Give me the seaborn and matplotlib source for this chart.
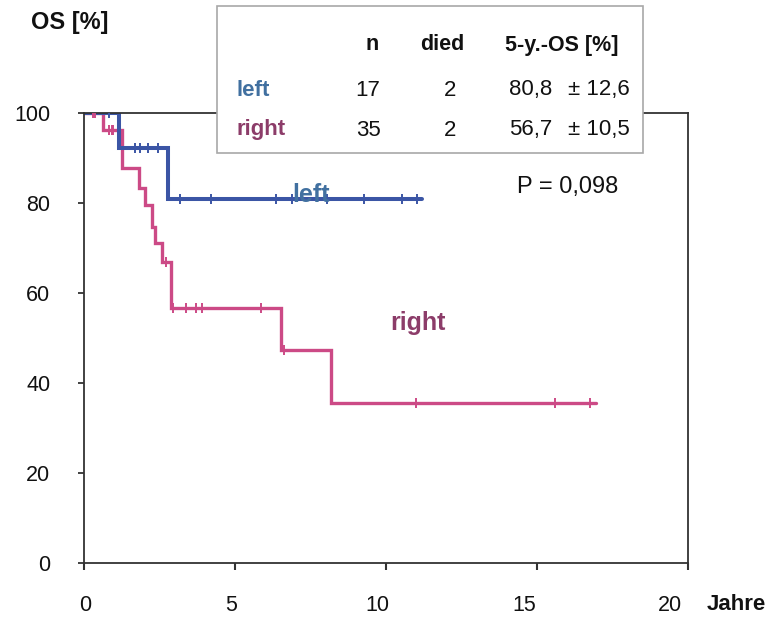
import numpy as np
import pandas as pd
import matplotlib
matplotlib.use("Agg")
import matplotlib.pyplot as plt
from matplotlib.patches import Rectangle
import seaborn as sns

# ---- data ----
left_times = [0, 1.19, 2.81]
left_surv = [100, 92.3, 80.8]
left_end = 11.2
left_cens = [0.86, 1.69, 1.88, 2.12, 2.48, 3.2, 4.23, 6.38, 6.9, 8.07, 9.29, 10.55, 11.04]

right_times = [0, 0.63, 1.29, 1.85, 2.05, 2.25, 2.38, 2.61, 2.91, 6.55, 8.2]
right_surv = [100, 96.2, 87.8, 83.3, 79.6, 74.7, 71.1, 66.9, 56.7, 47.3, 35.5]
right_end = 16.96
right_cens = [0.3, 0.38, 0.83, 0.93, 0.99, 2.74, 2.96, 3.4, 3.73, 3.93, 5.88, 6.65, 11.0, 15.6, 16.76]

table_groups = ["left", "right"]
table_n = [17, 35]
table_died = [2, 2]
table_os = ["80,8", "56,7"]
table_se = ["12,6", "10,5"]
p_text = "P = 0,098"

xticks = [0, 5, 10, 15, 20]
yticks = [0, 20, 40, 60, 80, 100]

BLUE = "#3b55a5"
PINK = "#cc4a86"
BLUE_TXT = "#4170a0"
PINK_TXT = "#8c3c69"

sns.set_style("white")
plt.rcParams['font.family'] = ['Liberation Sans', 'DejaVu Sans']

W, H = 777, 621
fig = plt.figure(figsize=(W / 100, H / 100), dpi=100)
fx = lambda px: px / W
fy = lambda py: 1 - py / H

ax_l, ax_r, ax_t, ax_b = 83.5, 688, 113, 563
ax = fig.add_axes([fx(ax_l), fy(ax_b), (ax_r - ax_l) / W, (ax_b - ax_t) / H])


def km_frame(times, surv, end):
    t = list(times) + [end]
    s = list(surv) + [surv[-1]]
    return pd.DataFrame({"t": t, "s": s})


def cens_frame(times, surv, cens):
    idx = np.searchsorted(times, cens, side="right") - 1
    return pd.DataFrame({"t": cens, "s": np.asarray(surv)[idx]})


for times, surv, end, cens, col, lw in [
    (right_times, right_surv, right_end, right_cens, PINK, 2.4),
    (left_times, left_surv, left_end, left_cens, BLUE, 2.9),
]:
    sns.lineplot(data=km_frame(times, surv, end), x="t", y="s", ax=ax,
                 drawstyle="steps-post", color=col, lw=lw, estimator=None,
                 sort=False, solid_joinstyle="miter")
    sns.scatterplot(data=cens_frame(times, surv, cens), x="t", y="s", ax=ax,
                    marker="|", color=col, s=55, linewidth=1.4, zorder=4)

ax.set_xlim(0, 20)
ax.set_ylim(0, 100)
ax.set_xlabel("")
ax.set_ylabel("")

# major ticks (marks only)
ax.set_xticks(xticks)
ax.set_xticklabels([""] * len(xticks))
# label positions slightly offset as in the reference
px_per = (ax_r - ax_l) / 20
lab_pos = [((85 + v * 29.25) - ax_l) / px_per for v in xticks]
ax.set_xticks(lab_pos, labels=[str(v) for v in xticks], minor=True)
ax.tick_params(axis="x", which="major", direction="out", length=5, width=1.5,
               color="#333333", bottom=True)
ax.tick_params(axis="x", which="minor", length=0, pad=23, labelsize=15.5,
               labelcolor="#111111", bottom=True)

ax.set_yticks(yticks)
ax.set_yticklabels([str(v) for v in yticks])
ax.tick_params(axis="y", direction="out", length=4.5, width=1.3, color="#333333",
               pad=19.5, labelsize=15.5, labelcolor="#111111", left=True)

for sp in ax.spines.values():
    sp.set_visible(True)
    sp.set_color("#333333")
    sp.set_linewidth(1.3)

# axis titles
fig.text(fx(70), fy(23), "OS [%]", fontsize=17, fontweight="bold",
         ha="center", va="center", color="#111111")
fig.text(fx(707), fy(604), "Jahre", fontsize=16, fontweight="bold",
         ha="left", va="center", color="#111111")

# curve labels
fig.text(fx(292), fy(202), "left", fontsize=18, fontweight="bold",
         ha="left", va="baseline", color=BLUE_TXT, zorder=6)
fig.text(fx(390), fy(330), "right", fontsize=18, fontweight="bold",
         ha="left", va="baseline", color=PINK_TXT, zorder=6)

fig.text(fx(517), fy(187), p_text, fontsize=17, ha="left", va="center",
         color="#111111")

# table box
fig.patches.append(Rectangle((fx(217), fy(153)), (643 - 217) / W, (153 - 6) / H,
                             transform=fig.transFigure, facecolor="white",
                             edgecolor="#a8a8a8", lw=1.2, zorder=5))
hdr_y = 45
fs_t = 16
fig.text(fx(372), fy(hdr_y), "n", fontsize=15.5, fontweight="bold", ha="center",
         va="center", color="#111111", zorder=6)
fig.text(fx(442), fy(hdr_y), "died", fontsize=15.5, fontweight="bold", ha="center",
         va="center", color="#111111", zorder=6)
fig.text(fx(562), fy(hdr_y), "5-y.-OS [%]", fontsize=15.5, fontweight="bold",
         ha="center", va="center", color="#111111", zorder=6)
row_y = [90, 130]
row_col = [BLUE_TXT, PINK_TXT]
for g, n, d, o, se, yy, c in zip(table_groups, table_n, table_died, table_os,
                                 table_se, row_y, row_col):
    fig.text(fx(237), fy(yy), g, fontsize=fs_t, fontweight="bold", ha="left",
             va="center", color=c, zorder=6)
    fig.text(fx(368), fy(yy), str(n), fontsize=fs_t, ha="center", va="center",
             color="#111111", zorder=6)
    fig.text(fx(450), fy(yy), str(d), fontsize=fs_t, ha="center", va="center",
             color="#111111", zorder=6)
    fig.text(fx(552), fy(yy), o, fontsize=fs_t, ha="right", va="center",
             color="#111111", zorder=6)
    fig.text(fx(630), fy(yy), "\u00b1 " + se, fontsize=fs_t, ha="right",
             va="center", color="#111111", zorder=6)

fig.savefig("out.png", dpi=100, facecolor="white")
